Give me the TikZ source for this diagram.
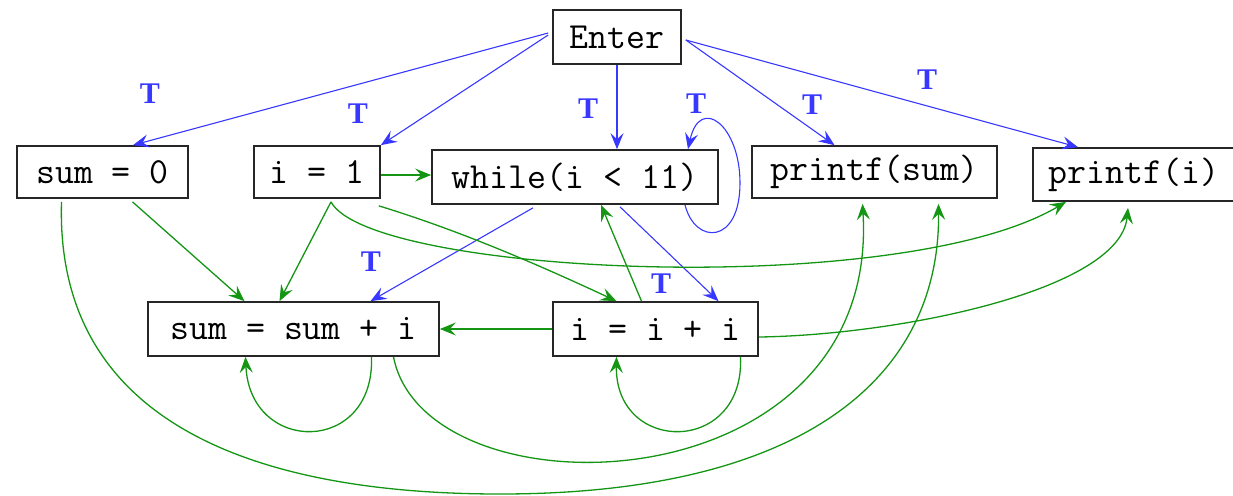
\documentclass[tikz,border=0pt]{standalone}
\usepackage{fontspec}
\setmainfont{Liberation Serif}
\usetikzlibrary{arrows.meta,calc}

\definecolor{tblue}{RGB}{55,55,255}
\definecolor{dgreen}{RGB}{20,150,20}

\tikzset{
  box/.style={draw=black!85, line width=0.85pt, fill=white, inner sep=0pt,
    font=\ttfamily\fontsize{18.4}{20}\selectfont},
  tip/.style={-{Stealth[length=8pt,width=6.5pt,inset=3pt]}},
  ctrl/.style={tip, draw=tblue, line width=0.55pt},
  data/.style={tip, draw=dgreen, line width=0.65pt},
  lab/.style={text=tblue, font=\bfseries\fontsize{15}{16}\selectfont, inner sep=0pt}
}

\begin{document}
\begin{tikzpicture}[x=0.5pt,y=-0.5pt]
\useasboundingbox (0,0) rectangle (1233,495);

% statements
\node[box, minimum width=64pt,    minimum height=27pt]   (enter) at (617,37)     {Enter};
\node[box, minimum width=85.5pt,  minimum height=26pt]   (sum0)  at (102.5,172)  {sum = 0};
\node[box, minimum width=63pt,    minimum height=26pt]   (i1)    at (317,172)    {i = 1};
\node[box, minimum width=143pt,   minimum height=27pt]   (wh)    at (575,177)    {while(i < 11)};
\node[box, minimum width=122.5pt, minimum height=26pt]   (psum)  at (874.5,172)  {printf(sum)};
\node[box, minimum width=101pt,   minimum height=26.5pt] (pi)    at (1134,174.5) {printf(i)};
\node[box, minimum width=145.5pt, minimum height=27pt]   (ssi)   at (293.5,329)  {sum = sum + i};
\node[box, minimum width=102.5pt, minimum height=27pt]   (iii)   at (655.5,329)  {i = i + i};

% control dependences
\draw[ctrl] ($(enter.west)+(-4,-4)$) -- ($(sum0.north)+(30.5,0)$);
\draw[ctrl] ($(enter.west)+(-4,-2)$) -- (i1.north east);
\draw[ctrl] (enter.south) -- (enter.south |- wh.north);
\draw[ctrl] ($(enter.east)+(4,3)$) -- ($(psum.north)+(-40,0)$);
\draw[ctrl] ($(enter.east)+(4,3)$) -- ($(pi.north)+(-56,0)$);
\draw[ctrl] ($(wh.south)+(110,0)$) .. controls (695,245) and (740,245) .. (740,183)
                                   .. controls (740,125) and (700,95) .. ($(wh.north)+(113,0)$);
\draw[ctrl] ($(wh.south)+(-42,3)$) -- ($(ssi.north)+(77,0)$);
\draw[ctrl] ($(wh.south)+(45,2)$) -- ($(iii.north)+(63,0)$);

\node[lab] (t1) at (150,94)  {T};
\node[lab] (t2) at (358,114) {T};
\node[lab] (t3) at (588,109) {T};
\node[lab] (t4) at (812,105) {T};
\node[lab] (t5) at (927,80)  {T};
\node[lab] (t6) at (696,104) {T};
\node[lab] (t7) at (371,262) {T};
\node[lab] (t8) at (661,284) {T};

% data dependences
\draw[data] ($(i1.east)+(0,3)$) -- ($(i1.east -| wh.west)+(0,3)$);
\draw[data] ($(sum0.south)+(30,3)$) -- ($(ssi.north)+(-49,0)$);
\draw[data] ($(i1.south)+(14,3)$) -- ($(ssi.north)+(-14,0)$);
\draw[data] ($(i1.south)+(14,3)$) .. controls (370,275) and (900,300) .. ($(pi.south)+(-68,0)$);
\draw[data] ($(i1.south east)+(-2,7)$) .. controls (458,230) and (537,264) .. ($(iii.north)+(-39,0)$);
\draw[data] (iii.west) -- (iii.west -| ssi.east);
\draw[data] ($(iii.north)+(-14,0)$) -- ($(wh.south)+(26,0)$);
\draw[data] ($(iii.east)+(0,8)$) .. controls (900,335) and (1120,290) .. ($(pi.south)+(-6,6)$);
\draw[data] ($(iii.south)+(85,0)$) .. controls (745,455) and (615,455) .. ($(iii.south)+(-39,0)$);
\draw[data] ($(ssi.south)+(78,0)$) .. controls (375,455) and (250,455) .. ($(ssi.south)+(-48,0)$);
\draw[data] ($(ssi.south)+(100,0)$) .. controls (425,520) and (880,510) .. ($(psum.south)+(-12,5)$);
\draw[data] ($(sum0.south)+(-41,3)$) .. controls (55,420) and (250,494) .. (500,494)
                                     .. controls (800,494) and (940,380) .. ($(psum.south)+(64,5)$);
\end{tikzpicture}
\end{document}
